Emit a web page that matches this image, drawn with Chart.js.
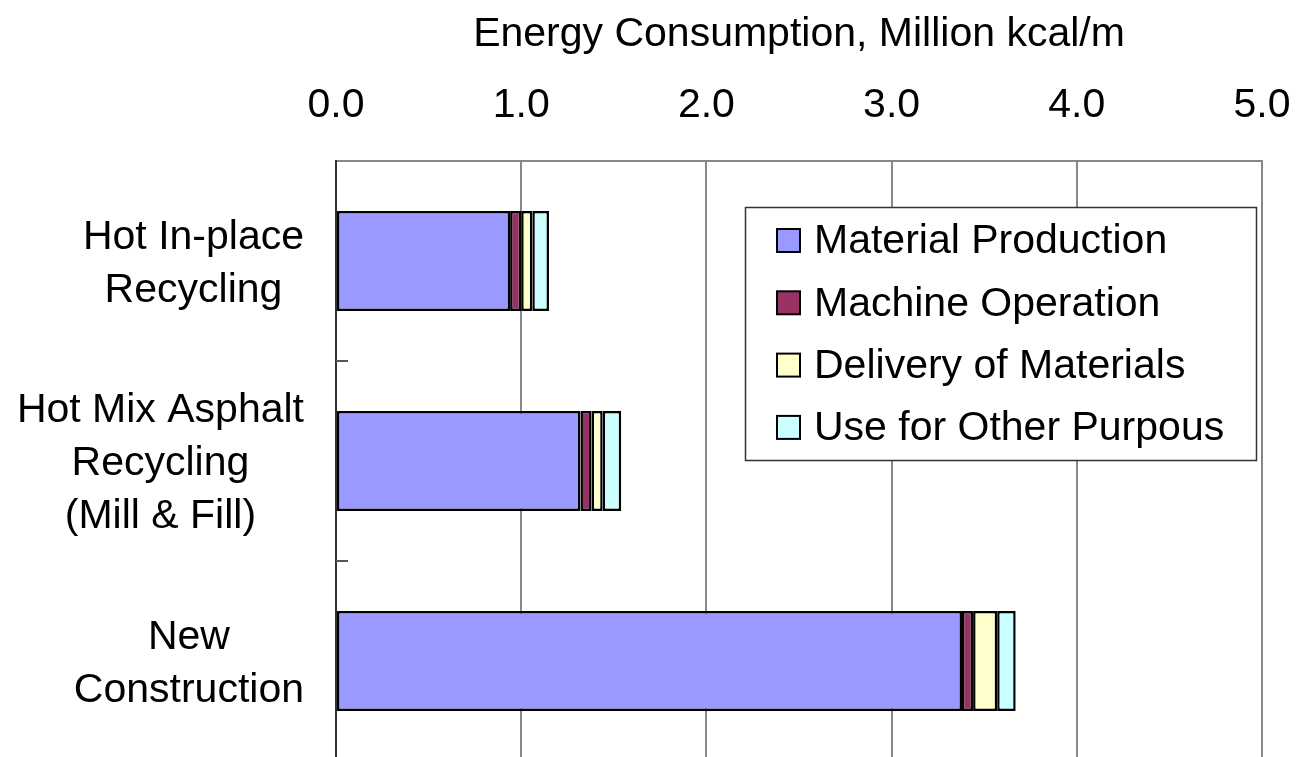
<!DOCTYPE html>
<html>
<head>
<meta charset="utf-8">
<script src="https://cdn.jsdelivr.net/npm/chart.js@4.4.1/dist/chart.umd.min.js"></script>
<style>
  html, body { margin: 0; padding: 0; background: #fff; overflow: hidden; }
  #wrap { width: 1299px; height: 770px; }
</style>
</head>
<body>
<div id="wrap"><canvas id="grafico"></canvas></div>
<script>
// categories (one line per entry) and energy per component, million kcal/m
const categorias = [
  ['Hot In-place', 'Recycling'],
  ['Hot Mix Asphalt', 'Recycling', '(Mill & Fill)'],
  ['New', 'Construction']
]
const produccion = [0.94, 1.32, 3.38]
const maquinaria = [0.06, 0.06, 0.06]
const transporte = [0.06, 0.06, 0.13]
const otrosUsos = [0.09, 0.10, 0.10]

const nombresSeries = ['Material Production', 'Machine Operation', 'Delivery of Materials', 'Use for Other Purpous']
const colores = ['#9999FF', '#993366', '#FFFFCC', '#CCFFFF']
const tickLabels = ['0.0', '1.0', '2.0', '3.0', '4.0', '5.0']

const fuente = '"Liberation Sans", Arial, sans-serif'
Chart.defaults.font.family = fuente
Chart.defaults.color = '#000'

// category labels: each block right aligned, lines centered inside the block
const etiquetasY = {
  id: 'etiquetasY',
  afterDraw(chart) {
    const ctx = chart.ctx
    const y = chart.scales.y
    ctx.save()
    ctx.font = '41px ' + fuente
    ctx.fillStyle = '#000'
    ctx.textAlign = 'center'
    ctx.textBaseline = 'middle'
    const alto = 53
    categorias.forEach((lineas, i) => {
      const ancho = Math.max(...lineas.map(l => ctx.measureText(l).width))
      const cx = 304 - ancho / 2
      const cy = y.getPixelForValue(i) + 3
      lineas.forEach((l, k) => {
        ctx.fillText(l, cx, cy + (k - (lineas.length - 1) / 2) * alto)
      })
    })
    // small inside ticks between categories
    ctx.strokeStyle = '#555'
    ctx.lineWidth = 2
    for (let i = 0; i < categorias.length - 1; i++) {
      const py = (y.getPixelForValue(i) + y.getPixelForValue(i + 1)) / 2
      ctx.beginPath()
      ctx.moveTo(chart.chartArea.left, py)
      ctx.lineTo(chart.chartArea.left + 12, py)
      ctx.stroke()
    }
    ctx.restore()
  }
}

// boxed legend inside the plot
const leyenda = {
  id: 'leyenda',
  afterDraw(chart) {
    const ctx = chart.ctx
    ctx.save()
    ctx.fillStyle = '#fff'
    ctx.fillRect(745, 207, 511, 253)
    ctx.strokeStyle = '#333'
    ctx.lineWidth = 1.5
    ctx.strokeRect(745.5, 207.5, 511, 253)
    ctx.font = '41px ' + fuente
    ctx.textBaseline = 'middle'
    chart.data.datasets.forEach((ds, i) => {
      const cy = 241 + i * 62.3
      ctx.fillStyle = ds.backgroundColor
      ctx.fillRect(777, cy - 12, 23, 23)
      ctx.strokeStyle = '#000'
      ctx.lineWidth = 2
      ctx.strokeRect(777, cy - 12, 23, 23)
      ctx.fillStyle = '#000'
      ctx.fillText(ds.label, 814, cy + 1)
    })
    ctx.restore()
  }
}

const series = [produccion, maquinaria, transporte, otrosUsos]

const config = {
  type: 'bar',
  data: {
    labels: categorias.map(c => c.join(' ')),
    datasets: series.map((valores, i) => ({
      label: nombresSeries[i],
      data: valores,
      backgroundColor: colores[i],
      borderColor: '#000',
      borderWidth: 2.5,
      borderSkipped: false,
      categoryPercentage: 1,
      barPercentage: 0.5
    }))
  },
  options: {
    indexAxis: 'y',
    responsive: true,
    maintainAspectRatio: false,
    animation: false,
    layout: { padding: { top: 0, left: 0, right: 37, bottom: 9 } },
    plugins: {
      legend: { display: false },
      tooltip: { enabled: false }
    },
    scales: {
      x: {
        position: 'top',
        stacked: true,
        min: 0,
        max: 5,
        ticks: {
          stepSize: 1,
          padding: 31,
          font: { size: 41 },
          color: '#000',
          callback: (v, i) => tickLabels[i]
        },
        grid: { color: '#888', lineWidth: 2, drawTicks: false },
        border: { color: '#888', width: 2 },
        title: {
          display: true,
          text: 'Energy Consumption, Million kcal/m',
          font: { size: 41 },
          color: '#000',
          padding: { top: 10, bottom: 0 }
        },
        afterFit: (scale) => {
          scale.height = 161
          scale.paddingLeft = 0
          scale.paddingRight = 0
        }
      },
      y: {
        stacked: true,
        ticks: { display: false },
        grid: { display: false },
        border: { color: '#333', width: 2 },
        afterFit: (scale) => { scale.width = 336 }
      }
    }
  },
  plugins: [etiquetasY, leyenda]
}

new Chart(document.getElementById('grafico'), config)
</script>
</body>
</html>
